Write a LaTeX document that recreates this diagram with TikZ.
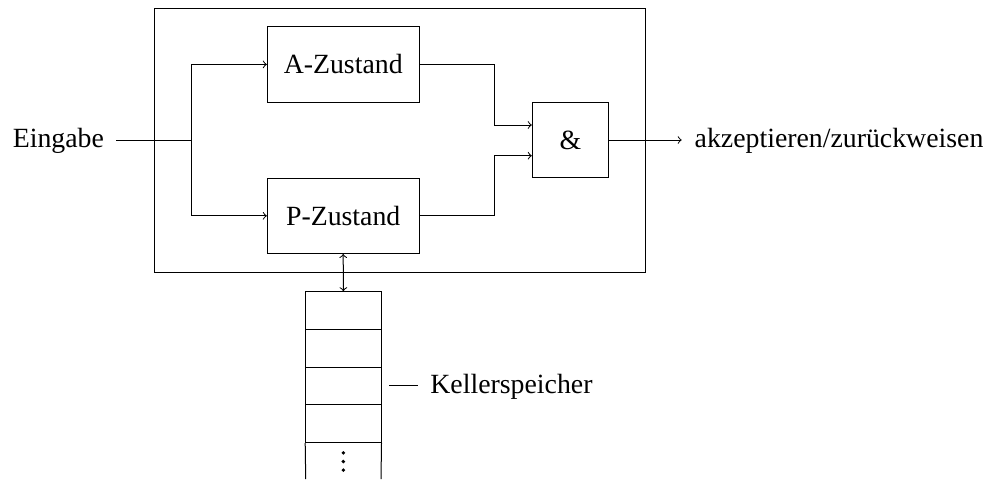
\documentclass[tikz,border=0pt]{standalone}
\usepackage{fontspec}
\setmainfont{Liberation Serif}
\usetikzlibrary{calc}
\begin{document}
\begin{tikzpicture}[x=0.5pt,y=-0.5pt,
  every node/.style={font=\fontsize{13.9}{16}\selectfont},
  lw/.style={line width=0.5pt},
  block/.style={draw,lw,rectangle,inner sep=0pt,minimum width=75.85pt,minimum height=37.65pt},
  cell/.style={draw,lw,rectangle,inner sep=0pt,minimum width=37.65pt,minimum height=18.85pt},
  lbl/.style={inner sep=0pt},
  conn/.style={lw},
  arr/.style={lw,->},
  dot/.style={circle,fill,inner sep=0pt,minimum size=1.9pt},
]
\useasboundingbox (0,0) rectangle (999,479);
% outer frame
\node[draw,lw,rectangle,inner sep=0pt,minimum width=245.85pt,minimum height=132.2pt] (outer) at (399.85,140.5) {};
% blocks
\node[block] (A) at (343.2,64.4) {A-Zustand};
\node[block] (P) at (343.2,215.8) {P-Zustand};
\node[block,minimum width=38pt,minimum height=37.7pt] (and) at (570.3,140) {\&};
% labels
\node[lbl,anchor=base east] (ein) at (104.3,147.3) {Eingabe};
\node[lbl,anchor=base west] (out) at (694.3,147.3) {akzeptieren/zurückweisen};
\node[lbl,anchor=base west] (kel) at (430,393.3) {Kellerspeicher};
% helper coordinates
\coordinate (br) at (191.7,140);
\coordinate (jx) at (494.7,140);
\coordinate (einend) at (116,140);
\coordinate (outend) at (681.7,140);
% input
\draw[conn] (einend) -- (br);
\draw[arr] (br) |- (A.west);
\draw[arr] (br) |- (P.west);
% to and gate
\draw[arr] (A.east) -| ([yshift=7.5pt]and.west -| jx) -- ([yshift=7.5pt]and.west);
\draw[arr] (P.east) -| ([yshift=-7.85pt]and.west -| jx) -- ([yshift=-7.85pt]and.west);
% output
\draw[arr] (and.east) -- (outend);
% stack
\node[cell] (s1) at (343.35,310.55) {};
\node[cell] (s2) at (343.35,348.25) {};
\node[cell] (s3) at (343.35,385.95) {};
\node[cell] (s4) at (343.35,423.65) {};
\coordinate (s5l) at (305.7,479);
\coordinate (s5r) at (381,479);
\draw[conn] (s4.south west) -- (s5l);
\draw[conn] (s4.south east) -- (s5r);
\node[dot] (d1) at (343.35,452.9) {};
\node[dot] (d2) at (343.35,461.5) {};
\node[dot] (d3) at (343.35,470.1) {};
\draw[lw,<->] (P.south) -- (s1.north);
\coordinate (kstart) at (389.3,385.7);
\coordinate (kend) at (418.3,385.7);
\draw[conn] (kstart) -- (kend);
\end{tikzpicture}
\end{document}
